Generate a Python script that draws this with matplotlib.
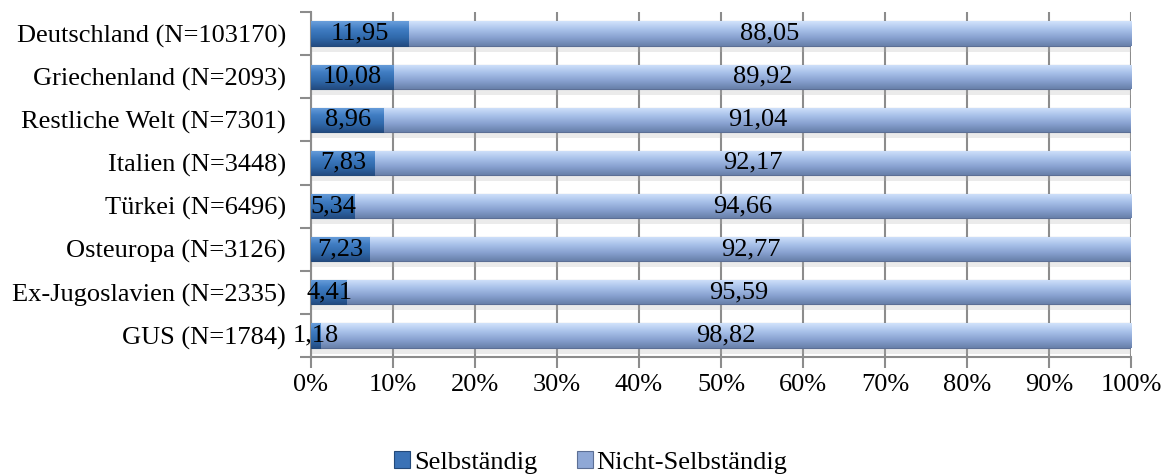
import numpy as np
import matplotlib.pyplot as plt
from matplotlib.colors import LinearSegmentedColormap

plt.rcParams['font.family'] = ['Liberation Serif', 'DejaVu Serif']

# data
laender = ['Deutschland (N=103170)', 'Griechenland (N=2093)', 'Restliche Welt (N=7301)',
           'Italien (N=3448)', 'Türkei (N=6496)', 'Osteuropa (N=3126)',
           'Ex-Jugoslavien (N=2335)', 'GUS (N=1784)']
selbst = [11.95, 10.08, 8.96, 7.83, 5.34, 7.23, 4.41, 1.18]
nicht_selbst = [88.05, 89.92, 91.04, 92.17, 94.66, 92.77, 95.59, 98.82]
serien = ['Selbständig', 'Nicht-Selbständig']

fig = plt.figure(figsize=(11.7, 4.74), dpi=100)
ax = fig.add_axes([0.2658, 0.2468, 0.7009, 0.7279])

y = np.arange(len(laender))
h = 0.56

# gradient colours (top -> bottom) like the excel bevel look
cm_selbst = LinearSegmentedColormap.from_list('s', ['#6a9fdc', '#3f7cc2', '#3069ab', '#234c82'])
cm_nicht = LinearSegmentedColormap.from_list('n', ['#d2e3fb', '#a9c2ea', '#88a1d0', '#6880aa'])

# soft shadow under the bars (floor)
ax.barh(y + h / 2 + 0.07, 100, height=0.14, color='#b0b0b0', alpha=0.25, zorder=1)

b1 = ax.barh(y, selbst, height=h, color='#3a72b6', label=serien[0], zorder=3,
             edgecolor='#23497a', linewidth=0.8)
b2 = ax.barh(y, nicht_selbst, left=selbst, height=h, color='#8fa8d6', label=serien[1],
             zorder=3, edgecolor='#5c6f95', linewidth=0.8)

grad = np.linspace(0, 1, 64).reshape(-1, 1)
for bars, cm in [(b1, cm_selbst), (b2, cm_nicht)]:
    for p in bars:
        x0, y0, w, hh = p.get_x(), p.get_y(), p.get_width(), p.get_height()
        im = ax.imshow(grad, cmap=cm, aspect='auto', extent=(x0, x0 + w, y0 + hh, y0),
                       zorder=3.5, interpolation='bicubic')
        im.set_clip_path(p)

ax.bar_label(b1, labels=[f'{v:.2f}'.replace('.', ',') for v in selbst],
             label_type='center', fontsize=19, zorder=5)
ax.bar_label(b2, labels=[f'{v:.2f}'.replace('.', ',') for v in nicht_selbst],
             label_type='center', fontsize=19, zorder=5)

ax.set_xlim(0, 100)
ax.set_ylim(len(laender) - 0.5, -0.5)
ax.set_xticks(np.arange(0, 101, 10))
ax.set_xticklabels([f'{v}%' for v in range(0, 101, 10)], fontsize=19)
ax.set_yticks(y)
ax.set_yticklabels(laender, fontsize=19)
ax.set_yticks(np.arange(-0.5, len(laender)), minor=True)
ax.tick_params(axis='y', which='major', length=0, pad=18)
ax.tick_params(axis='y', which='minor', length=8, color='#8c8c8c', width=1.5)
ax.tick_params(axis='x', length=8, color='#8c8c8c', width=1.5, pad=4)
ax.xaxis.grid(True, color='#8c8c8c', linewidth=1.5, zorder=0)
ax.set_axisbelow(True)
for s in ['top', 'right']:
    ax.spines[s].set_visible(False)
for s in ['left', 'bottom']:
    ax.spines[s].set_color('#8c8c8c')
    ax.spines[s].set_linewidth(1.5)

fig.legend(handles=[b1, b2], labels=serien, loc='lower center', bbox_to_anchor=(0.505, -0.05),
           ncol=2, frameon=False, fontsize=19, handlelength=0.6, handleheight=0.6,
           handletextpad=0.15, columnspacing=1.5)

fig.savefig('out.png', dpi=100)
